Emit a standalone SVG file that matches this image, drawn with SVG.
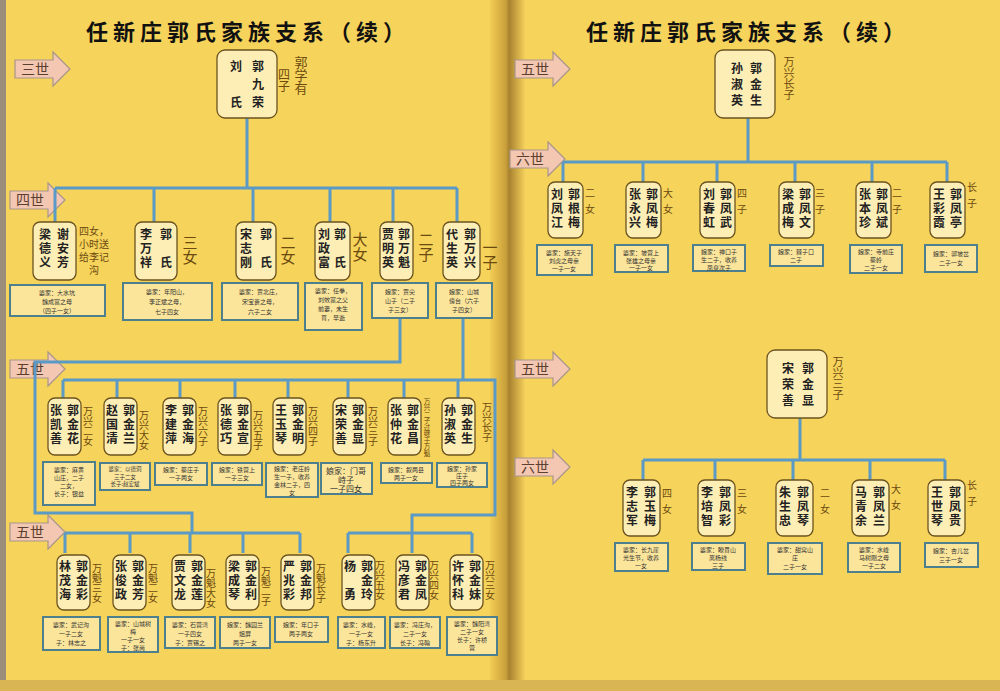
<svg xmlns="http://www.w3.org/2000/svg" width="1000" height="691" viewBox="0 0 1000 691">
<defs>
<linearGradient id="spine" x1="0" x2="1" y1="0" y2="0">
<stop offset="0" stop-color="#f3cd55"/><stop offset="0.45" stop-color="#c9a03a"/><stop offset="0.55" stop-color="#a88230"/><stop offset="1" stop-color="#f5d05a"/>
</linearGradient>
<polygon id="arr" points="0,8 38,8 38,0 55,17 38,34 38,26 0,26" fill="#f4c7b2" stroke="#a8958a" stroke-width="1.2"/>
</defs>
<style>
.v{writing-mode:vertical-rl;font-family:"Noto Sans CJK SC",sans-serif;font-weight:bold;font-size:12px;fill:#222;letter-spacing:2px}
.lab{writing-mode:vertical-rl;font-family:"Noto Sans CJK SC",sans-serif;font-size:10px;fill:#6b4a10}
.labb{writing-mode:vertical-rl;font-family:"Noto Sans CJK SC",sans-serif;font-size:15px;fill:#6b4a10}
.nd{fill:#fdeeb6;stroke:#6b5320;stroke-width:1.3}
.ib{fill:#fbe59b;stroke:#4d7f8c;stroke-width:2}
.it{font-family:"Noto Sans CJK SC",sans-serif;font-size:6px;fill:#333;text-anchor:middle}
.ln{fill:none;stroke:#5b9ac6;stroke-width:3}
.ttl{font-family:"Noto Sans CJK SC",sans-serif;font-weight:bold;font-size:22px;fill:#111;letter-spacing:5px;text-anchor:middle}
.gt{font-family:"Noto Sans CJK SC",serif;font-size:14px;fill:#5a4030;text-anchor:middle}
</style>
<rect width="1000" height="691" fill="#f6d35b"/>
<rect x="0" width="6" height="691" fill="#9a8e7a"/>
<rect x="490" width="35" height="691" fill="url(#spine)"/>
<rect x="0" y="680" width="1000" height="11" fill="#d9b553"/>

<text class="ttl" x="248" y="40">任新庄郭氏家族支系（续）</text>
<text class="ttl" x="748" y="40">任新庄郭氏家族支系（续）</text>

<g id="gen-labels">
<g transform="translate(15,52)"><use href="#arr"/><text class="gt" x="20" y="22">三世</text></g>
<g transform="translate(10,183)"><use href="#arr"/><text class="gt" x="20" y="22">四世</text></g>
<g transform="translate(10,352)"><use href="#arr"/><text class="gt" x="20" y="22">五世</text></g>
<g transform="translate(10,515)"><use href="#arr"/><text class="gt" x="20" y="22">五世</text></g>
<g transform="translate(515,52)"><use href="#arr"/><text class="gt" x="20" y="22">五世</text></g>
<g transform="translate(510,142)"><use href="#arr"/><text class="gt" x="20" y="22">六世</text></g>
<g transform="translate(515,352)"><use href="#arr"/><text class="gt" x="20" y="22">五世</text></g>
<g transform="translate(515,450)"><use href="#arr"/><text class="gt" x="20" y="22">六世</text></g>
</g>

<g id="connectors">
<path class="ln" d="M247 118V188M55 188H457M55 188V222M154 188V222M253 188V222M330 188V222M393 188V222M457 188V222"/>
<path class="ln" d="M400 318V362H35V513H192V533M65 533H300M65 533V553M130 533V553M190 533V553M243 533V553M300 533V553"/>
<path class="ln" d="M463 318V380M63 380H495V515H412V533M63 380V398M117 380V398M180 380V398M235 380V398M288 380V398M348 380V398M404 380V398M458 380V398M348 533H472M348 533V553M412 533V553M472 533V553"/>
<path class="ln" d="M748 118V162M563 162H947M563 162V182M643 162V182M717 162V182M795 162V182M872 162V182M947 162V182"/>
<path class="ln" d="M800 418V460M643 460H945M643 460V480M715 460V480M793 460V480M870 460V480M945 460V480"/>
</g>

<g id="n-jiurong"><rect class="nd" x="217" y="50" width="60" height="68" rx="8"/><text class="v" x="258" y="60" style="letter-spacing:6px">郭九荣</text><text class="v" x="236" y="60" style="letter-spacing:6px">刘　氏</text>
<text class="labb" x="284" y="68" style="font-size:12px">四子</text><text class="labb" x="301" y="56" style="font-size:13px">郭学有</text></g>

<g id="n-anfang"><rect class="nd" x="33" y="222" width="43" height="58" rx="7"/><text class="v" x="63" y="228">谢安芳</text><text class="v" x="45" y="228">梁德义</text>
<text style="font-family:'Noto Sans CJK SC',sans-serif;font-size:10px;fill:#6b4a10;text-anchor:middle"><tspan x="94" y="235">四女，</tspan><tspan x="94" y="248">小时送</tspan><tspan x="94" y="261">给李记</tspan><tspan x="94" y="274">沟</tspan></text>
<rect class="ib" x="10" y="285" width="95" height="31"/><text class="it"><tspan x="57" y="295">婆家：大水坑</tspan><tspan x="57" y="304">魏成富之母</tspan><tspan x="57" y="313">（四子一女）</tspan></text></g>

<g id="n-s3"><rect class="nd" x="135" y="222" width="42" height="58" rx="7"/><text class="v" x="166" y="228">郭　氏</text><text class="v" x="146" y="228">李万祥</text><text class="labb" x="190" y="235">三女</text>
<rect class="ib" x="123" y="283" width="89" height="37"/><text class="it"><tspan x="167" y="294">婆家：年阳山，</tspan><tspan x="167" y="304">李正斌之母，</tspan><tspan x="167" y="314">七子四女</tspan></text></g>

<g id="n-s2"><rect class="nd" x="236" y="222" width="40" height="58" rx="7"/><text class="v" x="266" y="228">郭　氏</text><text class="v" x="246" y="228">宋志刚</text><text class="labb" x="288" y="235">二女</text>
<rect class="ib" x="222" y="283" width="76" height="37"/><text class="it"><tspan x="260" y="294">婆家：贾北庄，</tspan><tspan x="260" y="304">宋宝贵之母，</tspan><tspan x="260" y="314">六子二女</tspan></text></g>

<g id="n-s1"><rect class="nd" x="315" y="222" width="35" height="58" rx="7"/><text class="v" x="340" y="228">郭　氏</text><text class="v" x="324" y="228">刘政富</text><text class="labb" x="360" y="232">大女</text>
<rect class="ib" x="305" y="283" width="57" height="47"/><text class="it"><tspan x="333" y="293">婆家：任拳，</tspan><tspan x="333" y="302">刘效富之父</tspan><tspan x="333" y="311">前妻，未生</tspan><tspan x="333" y="320">育，早逝</tspan></text></g>

<g id="n-wankui"><rect class="nd" x="380" y="222" width="33" height="58" rx="7"/><text class="v" x="404" y="228">郭万魁</text><text class="v" x="388" y="228">贾明英</text><text class="labb" x="426" y="232">二子</text>
<rect class="ib" x="372" y="283" width="56" height="35"/><text class="it"><tspan x="400" y="294">娘家：贾尖</tspan><tspan x="400" y="303">山子（二子</tspan><tspan x="400" y="312">子三女）</tspan></text></g>

<g id="n-wanxing"><rect class="nd" x="443" y="222" width="37" height="58" rx="7"/><text class="v" x="470" y="228">郭万兴</text><text class="v" x="452" y="228">代生英</text><text class="labb" x="490" y="240">一子</text>
<rect class="ib" x="436" y="283" width="56" height="35"/><text class="it"><tspan x="464" y="294">娘家：山城</tspan><tspan x="464" y="303">傍台（六子</tspan><tspan x="464" y="312">子四女）</tspan></text></g>

<g id="n-jinhua"><rect class="nd" x="48" y="398" width="33" height="57" rx="7"/><text class="v" x="73" y="404">郭金花</text><text class="v" x="56" y="404">张凯善</text><text class="lab" x="88" y="406">万兴二女</text>
<rect class="ib" x="43" y="462" width="52" height="43"/><text class="it"><tspan x="69" y="472">婆家：麻黄</tspan><tspan x="69" y="480">山庄，二子</tspan><tspan x="69" y="488">二女，</tspan><tspan x="69" y="496">长子：银益</tspan></text></g>
<g id="n-jinlan"><rect class="nd" x="104" y="398" width="33" height="57" rx="7"/><text class="v" x="129" y="404">郭金兰</text><text class="v" x="112" y="404">赵国清</text><text class="lab" x="144" y="410">万兴大女</text>
<rect class="ib" x="100" y="463" width="50" height="27"/><text class="it" style="font-size:5.5px"><tspan x="125" y="471">婆家：以德洞</tspan><tspan x="125" y="478.5">三子二女</tspan><tspan x="125" y="486">长子:赵宏斌</tspan></text></g>
<g id="n-jinhai"><rect class="nd" x="163" y="398" width="33" height="57" rx="7"/><text class="v" x="188" y="404">郭金海</text><text class="v" x="171" y="404">李建萍</text><text class="lab" x="203" y="406">万兴六子</text>
<rect class="ib" x="155" y="463" width="52" height="22"/><text class="it"><tspan x="181" y="472">娘家：蔡庄子</tspan><tspan x="181" y="480">一子两女</tspan></text></g>
<g id="n-jinxuan"><rect class="nd" x="218" y="398" width="33" height="57" rx="7"/><text class="v" x="243" y="404">郭金宣</text><text class="v" x="226" y="404">张德巧</text><text class="lab" x="258" y="410">万兴五子</text>
<rect class="ib" x="212" y="463" width="50" height="22"/><text class="it"><tspan x="237" y="472">娘家：铁营上</tspan><tspan x="237" y="480">一子三女</tspan></text></g>
<g id="n-jinming"><rect class="nd" x="273" y="398" width="33" height="57" rx="7"/><text class="v" x="298" y="404">郭金明</text><text class="v" x="281" y="404">王玉琴</text><text class="lab" x="313" y="406">万兴四子</text>
<rect class="ib" x="266" y="463" width="52" height="34"/><text class="it"><tspan x="292" y="471">娘家：老庄岭</tspan><tspan x="292" y="479">生一子，收养</tspan><tspan x="292" y="487">金林二子，四</tspan><tspan x="292" y="495">女</tspan></text></g>
<g id="n-jinxian"><rect class="nd" x="333" y="398" width="33" height="57" rx="7"/><text class="v" x="358" y="404">郭金显</text><text class="v" x="341" y="404">宋荣善</text><text class="lab" x="373" y="406">万兴三子</text>
<rect class="ib" x="321" y="463" width="51" height="31"/><text class="it" style="font-size:8px"><tspan x="346" y="474">娘家：门哥</tspan><tspan x="346" y="483">峙子</tspan><tspan x="346" y="492">一子四女</tspan></text></g>
<g id="n-jinchang"><rect class="nd" x="388" y="398" width="33" height="57" rx="7"/><text class="v" x="413" y="404">郭金昌</text><text class="v" x="396" y="404">张仲花</text><text class="lab" x="427" y="398" style="font-size:6.5px">万兴二子过继于万魁</text>
<rect class="ib" x="381" y="463" width="51" height="20"/><text class="it"><tspan x="406" y="472">娘家：叙两县</tspan><tspan x="406" y="480">两子一女</tspan></text></g>
<g id="n-jinsheng-l"><rect class="nd" x="442" y="398" width="33" height="57" rx="7"/><text class="v" x="467" y="404">郭金生</text><text class="v" x="450" y="404">孙淑英</text><text class="lab" x="487" y="402">万兴长子</text>
<rect class="ib" x="437" y="463" width="50" height="24"/><text class="it"><tspan x="462" y="471">娘家：孙家</tspan><tspan x="462" y="478">庄子</tspan><tspan x="462" y="485">四子两女</tspan></text></g>

<g id="n-jincai"><rect class="nd" x="57" y="555" width="33" height="55" rx="7"/><text class="v" x="82" y="560">郭金彩</text><text class="v" x="65" y="560">林茂海</text><text class="lab" x="97" y="563">万魁三女</text>
<rect class="ib" x="43" y="617" width="57" height="33"/><text class="it"><tspan x="71" y="627">婆家：武记沟</tspan><tspan x="71" y="636">一子二女</tspan><tspan x="71" y="645">子：林志之</tspan></text></g>
<g id="n-jinfang"><rect class="nd" x="113" y="555" width="33" height="55" rx="7"/><text class="v" x="138" y="560">郭金芳</text><text class="v" x="121" y="560">张俊政</text><text class="lab" x="153" y="563">万魁二女</text>
<rect class="ib" x="108" y="617" width="50" height="35"/><text class="it"><tspan x="133" y="626">婆家：山城树</tspan><tspan x="133" y="634">梅</tspan><tspan x="133" y="642">一子一女</tspan><tspan x="133" y="650">子：张尚</tspan></text></g>
<g id="n-jinlian"><rect class="nd" x="172" y="555" width="33" height="55" rx="7"/><text class="v" x="197" y="560">郭金莲</text><text class="v" x="180" y="560">贾文龙</text><text class="lab" x="211" y="568">万魁大女</text>
<rect class="ib" x="165" y="617" width="50" height="31"/><text class="it"><tspan x="190" y="627">婆家：石营湾</tspan><tspan x="190" y="636">一子四女</tspan><tspan x="190" y="645">子：贾锡之</tspan></text></g>
<g id="n-jinli"><rect class="nd" x="226" y="555" width="33" height="55" rx="7"/><text class="v" x="251" y="560">郭金利</text><text class="v" x="234" y="560">梁成琴</text><text class="lab" x="266" y="566">万魁二子</text>
<rect class="ib" x="220" y="617" width="50" height="31"/><text class="it"><tspan x="245" y="627">娘家：魏园兰</tspan><tspan x="245" y="636">姐屏</tspan><tspan x="245" y="645">两子一女</tspan></text></g>
<g id="n-jinbang"><rect class="nd" x="281" y="555" width="33" height="55" rx="7"/><text class="v" x="306" y="560">郭金邦</text><text class="v" x="289" y="560">严兆彩</text><text class="lab" x="321" y="563">万魁长子</text>
<rect class="ib" x="275" y="617" width="53" height="25"/><text class="it"><tspan x="301" y="627">娘家：年口子</tspan><tspan x="301" y="636">两子两女</tspan></text></g>
<g id="n-jinling"><rect class="nd" x="342" y="555" width="33" height="55" rx="7"/><text class="v" x="367" y="560">郭金玲</text><text class="v" x="350" y="560">杨　勇</text><text class="lab" x="380" y="560">万兴五女</text>
<rect class="ib" x="338" y="617" width="47" height="31"/><text class="it"><tspan x="361" y="627">婆家：水峰，</tspan><tspan x="361" y="636">一子一女</tspan><tspan x="361" y="645">子：杨东升</tspan></text></g>
<g id="n-jinfeng"><rect class="nd" x="396" y="555" width="33" height="55" rx="7"/><text class="v" x="421" y="560">郭金凤</text><text class="v" x="404" y="560">冯彦君</text><text class="lab" x="434" y="560">万兴四女</text>
<rect class="ib" x="390" y="617" width="50" height="31"/><text class="it"><tspan x="415" y="627">婆家：冯庄沟，</tspan><tspan x="415" y="636">二子一女</tspan><tspan x="415" y="645">长子：冯翰</tspan></text></g>
<g id="n-jinmei"><rect class="nd" x="450" y="555" width="33" height="55" rx="7"/><text class="v" x="475" y="560">郭金妹</text><text class="v" x="458" y="560">许怀科</text><text class="lab" x="490" y="560">万兴三女</text>
<rect class="ib" x="447" y="617" width="50" height="38"/><text class="it"><tspan x="472" y="626">婆家：魏阳湾</tspan><tspan x="472" y="634">二子一女</tspan><tspan x="472" y="642">长子：许桥</tspan><tspan x="472" y="650">营</tspan></text></g>

<g id="n-jinsheng-r"><rect class="nd" x="715" y="50" width="60" height="68" rx="8"/><text class="v" x="756" y="62" style="letter-spacing:4px">郭金生</text><text class="v" x="737" y="62" style="letter-spacing:4px">孙淑英</text><text class="lab" x="789" y="56" style="font-size:11px">万兴长子</text></g>
<g id="n-genmei"><rect class="nd" x="548" y="182" width="35" height="56" rx="7"/><text class="v" x="574" y="188">郭根梅</text><text class="v" x="557" y="188">刘凤江</text><text class="lab" x="590" y="188" style="letter-spacing:6px">二女</text>
<rect class="ib" x="537" y="245" width="55" height="30"/><text class="it"><tspan x="564" y="255">婆家：施天子</tspan><tspan x="564" y="263">刘虎之母亲</tspan><tspan x="564" y="271">一子一女</tspan></text></g>
<g id="n-fengmei"><rect class="nd" x="626" y="182" width="35" height="56" rx="7"/><text class="v" x="652" y="188">郭凤梅</text><text class="v" x="635" y="188">张永兴</text><text class="lab" x="668" y="188" style="letter-spacing:6px">大女</text>
<rect class="ib" x="615" y="245" width="53" height="27"/><text class="it"><tspan x="641" y="255">婆家：坡营上</tspan><tspan x="641" y="263">张雄之母亲</tspan><tspan x="641" y="270">一子一女</tspan></text></g>
<g id="n-fengwu"><rect class="nd" x="700" y="182" width="35" height="56" rx="7"/><text class="v" x="726" y="188">郭凤武</text><text class="v" x="709" y="188">刘春虹</text><text class="lab" x="742" y="188" style="letter-spacing:6px">四子</text>
<rect class="ib" x="693" y="245" width="52" height="26"/><text class="it"><tspan x="719" y="254">娘家：禅口子</tspan><tspan x="719" y="262">生二子，收养</tspan><tspan x="719" y="270">凤泉次子</tspan></text></g>
<g id="n-fengwen"><rect class="nd" x="779" y="182" width="35" height="56" rx="7"/><text class="v" x="805" y="188">郭凤文</text><text class="v" x="788" y="188">梁成梅</text><text class="lab" x="820" y="188" style="letter-spacing:6px">三子</text>
<rect class="ib" x="770" y="245" width="53" height="21"/><text class="it"><tspan x="796" y="254">娘家：棘子口</tspan><tspan x="796" y="262">二子</tspan></text></g>
<g id="n-fengbin"><rect class="nd" x="856" y="182" width="35" height="56" rx="7"/><text class="v" x="882" y="188">郭凤斌</text><text class="v" x="865" y="188">张本珍</text><text class="lab" x="897" y="188" style="letter-spacing:6px">二子</text>
<rect class="ib" x="850" y="245" width="52" height="28"/><text class="it"><tspan x="876" y="254">娘家：寺前庄</tspan><tspan x="876" y="262">蔡岭</tspan><tspan x="876" y="270">二子一女</tspan></text></g>
<g id="n-fengting"><rect class="nd" x="930" y="182" width="35" height="56" rx="7"/><text class="v" x="956" y="188">郭凤亭</text><text class="v" x="939" y="188">王彩霞</text><text class="lab" x="972" y="182" style="letter-spacing:6px">长子</text>
<rect class="ib" x="925" y="245" width="52" height="27"/><text class="it"><tspan x="951" y="256">娘家：郭坡岔</tspan><tspan x="951" y="265">二子一女</tspan></text></g>

<g id="n-jinxian-r"><rect class="nd" x="767" y="350" width="60" height="68" rx="8"/><text class="v" x="808" y="362" style="letter-spacing:4px">郭金显</text><text class="v" x="788" y="362" style="letter-spacing:4px">宋荣善</text><text class="lab" x="838" y="356" style="font-size:11px">万兴三子</text></g>
<g id="n-yumei"><rect class="nd" x="623" y="480" width="37" height="56" rx="7"/><text class="v" x="650" y="486">郭玉梅</text><text class="v" x="632" y="486">李志军</text><text class="lab" x="667" y="488" style="letter-spacing:6px">四女</text>
<rect class="ib" x="615" y="543" width="53" height="28"/><text class="it"><tspan x="641" y="552">婆家：长九崖</tspan><tspan x="641" y="560">光生节，收养</tspan><tspan x="641" y="568">一女</tspan></text></g>
<g id="n-fengcai"><rect class="nd" x="698" y="480" width="37" height="56" rx="7"/><text class="v" x="725" y="486">郭凤彩</text><text class="v" x="707" y="486">李培智</text><text class="lab" x="742" y="488" style="letter-spacing:6px">三女</text>
<rect class="ib" x="692" y="543" width="53" height="27"/><text class="it"><tspan x="718" y="552">婆家：瞭貫山</tspan><tspan x="718" y="560">离杨线</tspan><tspan x="718" y="568">三子</tspan></text></g>
<g id="n-fengqin"><rect class="nd" x="776" y="480" width="37" height="56" rx="7"/><text class="v" x="803" y="486">郭凤琴</text><text class="v" x="785" y="486">朱生忠</text><text class="lab" x="825" y="488" style="letter-spacing:6px">二女</text>
<rect class="ib" x="768" y="543" width="54" height="31"/><text class="it"><tspan x="795" y="552">婆家：甜窝山</tspan><tspan x="795" y="560">庄</tspan><tspan x="795" y="569">二子一女</tspan></text></g>
<g id="n-fenglan"><rect class="nd" x="852" y="480" width="37" height="56" rx="7"/><text class="v" x="879" y="486">郭凤兰</text><text class="v" x="861" y="486">马青余</text><text class="lab" x="896" y="484" style="letter-spacing:6px">大女</text>
<rect class="ib" x="848" y="543" width="52" height="29"/><text class="it"><tspan x="874" y="552">婆家：水峰</tspan><tspan x="874" y="560">马树刚之母</tspan><tspan x="874" y="568">一子二女</tspan></text></g>
<g id="n-denggui"><rect class="nd" x="928" y="480" width="37" height="56" rx="7"/><text class="v" x="955" y="486">郭凤贵</text><text class="v" x="937" y="486">王世琴</text><text class="lab" x="972" y="480" style="letter-spacing:6px">长子</text>
<rect class="ib" x="925" y="543" width="53" height="24"/><text class="it"><tspan x="951" y="553">娘家：杏儿岔</tspan><tspan x="951" y="562">三子一女</tspan></text></g>
</svg>
